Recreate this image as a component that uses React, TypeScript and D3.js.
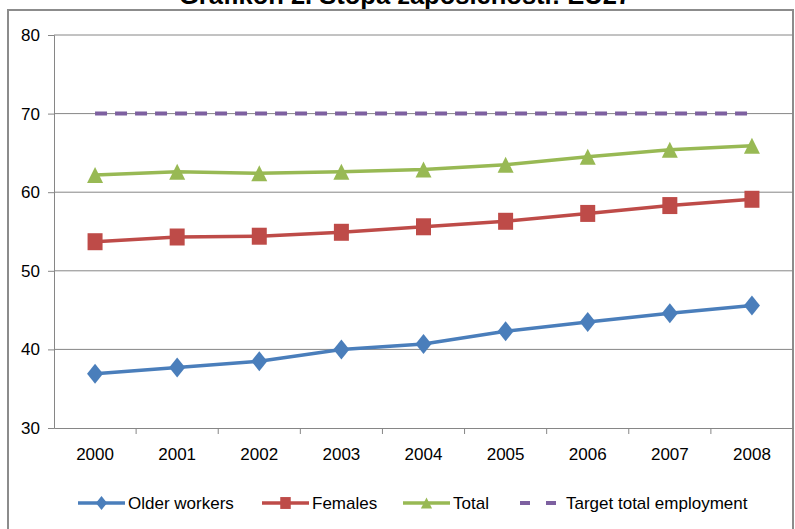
import React, { useEffect, useRef } from 'react';
import * as d3 from 'd3';

const years = ['2000', '2001', '2002', '2003', '2004', '2005', '2006', '2007', '2008'];
const olderWorkers = [36.9, 37.7, 38.5, 40.0, 40.7, 42.3, 43.5, 44.6, 45.6];
const females = [53.7, 54.3, 54.4, 54.9, 55.6, 56.3, 57.3, 58.3, 59.1];
const total = [62.2, 62.6, 62.4, 62.6, 62.9, 63.5, 64.5, 65.4, 65.9];
const target = [70, 70, 70, 70, 70, 70, 70, 70, 70];
const yTicks = [30, 40, 50, 60, 70, 80];

const FONT = '"Liberation Sans Narrow", "Liberation Sans", Arial, sans-serif';

// marker outlines, w = width, h = height
const markerPath = (type: string, w: number, h: number) => {
  const p = d3.path();
  if (type === 'diamond') {
    p.moveTo(0, -h / 2); p.lineTo(w / 2, 0); p.lineTo(0, h / 2); p.lineTo(-w / 2, 0);
  } else if (type === 'square') {
    p.rect(-w / 2, -h / 2, w, h);
  } else {
    p.moveTo(0, -h / 2); p.lineTo(w / 2, h / 2); p.lineTo(-w / 2, h / 2);
  }
  p.closePath();
  return p.toString();
};

const sizes = {
  diamond: [16, 20],
  square: [15, 17],
  triangle: [16, 16],
};

const App = () => {
  const svgRef = useRef(null);

  useEffect(() => {
    document.body.style.margin = '0';
    const W = 795, H = 529;
    const margin = { top: 35, right: 2, bottom: 101, left: 54 };
    const svg = d3.select(svgRef.current);
    svg.selectAll('*').remove();
    svg.attr('width', W).attr('height', H);

    svg.append('rect').attr('width', W).attr('height', H).attr('fill', '#fff');

    // outer frame
    svg.append('rect')
      .attr('x', 8).attr('y', 10).attr('width', 785).attr('height', 540)
      .attr('fill', 'none').attr('stroke', '#8c8c8c').attr('stroke-width', 2);

    svg.append('text')
      .attr('x', 405).attr('y', 4)
      .attr('text-anchor', 'middle')
      .style('font-family', 'Arial, "Liberation Sans", sans-serif')
      .style('font-weight', 'bold')
      .style('font-size', '25.5px')
      .text('Grafikon 2. Stopa zaposlenosti: EU27');

    const x = d3.scaleBand().domain(years).range([margin.left, W - margin.right]);
    const y = d3.scaleLinear().domain([30, 80]).range([H - margin.bottom, margin.top]);
    const cx = (d) => x(d) + x.bandwidth() / 2;

    const g = svg.append('g');

    // gridlines
    g.selectAll('.grid').data(yTicks.slice(1)).enter().append('line')
      .attr('x1', margin.left).attr('x2', W - margin.right)
      .attr('y1', d => y(d)).attr('y2', d => y(d))
      .attr('stroke', '#868686').attr('stroke-width', 1);

    // y axis
    const yAxis = g.append('g')
      .attr('transform', `translate(${margin.left},0)`)
      .call(d3.axisLeft(y).tickValues(yTicks).tickSize(6).tickPadding(8));
    yAxis.select('.domain').attr('stroke', '#868686');
    yAxis.selectAll('.tick line').attr('stroke', '#868686');
    yAxis.selectAll('text').style('font-family', FONT).style('font-size', '17px').attr('fill', '#000');

    // x axis
    const xAxis = g.append('g')
      .attr('transform', `translate(0,${y(30)})`)
      .call(d3.axisBottom(x).tickSize(0).tickPadding(20));
    xAxis.select('.domain').attr('stroke', '#868686');
    xAxis.selectAll('text').style('font-family', FONT).style('font-size', '17px').attr('fill', '#000');
    xAxis.selectAll('.sep').data(years.slice(1)).enter().append('line')
      .attr('x1', d => x(d)).attr('x2', d => x(d))
      .attr('y1', 0).attr('y2', 6)
      .attr('stroke', '#868686');

    const line = d3.line().x((d, i) => cx(years[i])).y(d => y(d));

    const series = [
      { name: 'Older workers', values: olderWorkers, color: '#4a7ebb', marker: 'diamond' },
      { name: 'Females', values: females, color: '#be4b48', marker: 'square' },
      { name: 'Total', values: total, color: '#98b954', marker: 'triangle' },
    ];

    // target line
    g.append('path')
      .datum(target)
      .attr('d', line)
      .attr('fill', 'none')
      .attr('stroke', '#7d60a0')
      .attr('stroke-width', 4)
      .attr('stroke-dasharray', '12,8');

    series.forEach(s => {
      g.append('path')
        .datum(s.values)
        .attr('d', line)
        .attr('fill', 'none')
        .attr('stroke', s.color)
        .attr('stroke-width', 3.5);
      const [mw, mh] = sizes[s.marker];
      g.selectAll(null).data(s.values).enter().append('path')
        .attr('transform', (d, i) => `translate(${cx(years[i])},${y(d)})`)
        .attr('d', markerPath(s.marker, mw, mh))
        .attr('fill', s.color);
    });

    // legend
    const legendY = 503;
    const legend = [
      { name: 'Older workers', color: '#4a7ebb', marker: 'diamond', x: 78 },
      { name: 'Females', color: '#be4b48', marker: 'square', x: 262 },
      { name: 'Total', color: '#98b954', marker: 'triangle', x: 403 },
    ];
    legend.forEach(l => {
      svg.append('line')
        .attr('x1', l.x).attr('x2', l.x + 47)
        .attr('y1', legendY).attr('y2', legendY)
        .attr('stroke', l.color).attr('stroke-width', 3.5);
      const [mw, mh] = sizes[l.marker];
      svg.append('path')
        .attr('transform', `translate(${l.x + 23.5},${legendY})`)
        .attr('d', markerPath(l.marker, mw * 0.7, mh * 0.7))
        .attr('fill', l.color);
      svg.append('text')
        .attr('x', l.x + 50).attr('y', legendY + 6)
        .style('font-family', FONT).style('font-size', '17px')
        .text(l.name);
    });
    svg.append('line')
      .attr('x1', 520).attr('x2', 556)
      .attr('y1', legendY).attr('y2', legendY)
      .attr('stroke', '#7d60a0').attr('stroke-width', 4)
      .attr('stroke-dasharray', '10,16');
    svg.append('text')
      .attr('x', 566).attr('y', legendY + 6)
      .style('font-family', FONT).style('font-size', '17px')
      .text('Target total employment');
  }, []);

  return (
    <div style={{ position: 'absolute', left: 0, top: 0 }}>
      <svg ref={svgRef}></svg>
    </div>
  );
};

export default App;
